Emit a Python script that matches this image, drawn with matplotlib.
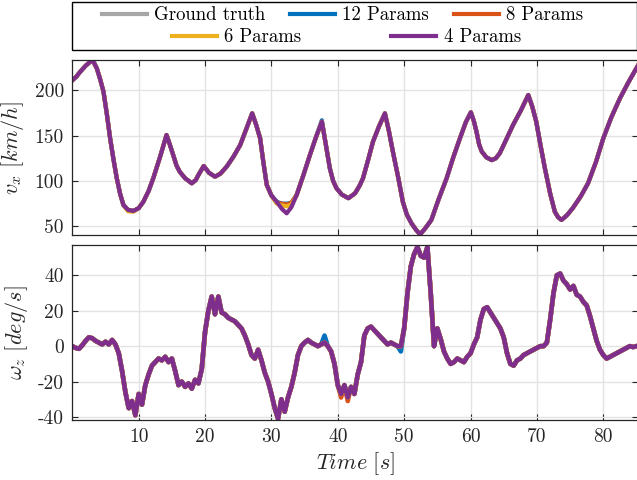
import numpy as np
import matplotlib
matplotlib.use("Agg")
import matplotlib.pyplot as plt
from matplotlib.patches import Rectangle

plt.rcParams['font.family'] = 'serif'
plt.rcParams['font.serif'] = ['cmr10']
plt.rcParams['mathtext.fontset'] = 'cm'
plt.rcParams['axes.unicode_minus'] = False
plt.rcParams['axes.formatter.use_mathtext'] = False

# ---------------- data ----------------
series_names = ['Ground truth', '12 Params', '8 Params', '6 Params', '4 Params']
series_colors = ['#A6A6A6', '#0072BD', '#D95319', '#EDB120', '#7E2F8E']

t_vx = [0, 0.6, 1.2, 2.0, 2.7, 3.1, 3.7, 4.2, 4.7, 5.2, 5.7, 6.2, 6.7, 7.2, 7.7, 8.4, 9.2,
        10.0, 10.7, 11.5, 12.2, 13.2, 14.2, 14.7, 15.2, 15.7, 16.2, 17.0, 18.0, 18.6, 19.0,
        19.8, 20.6, 21.5, 22.3, 23.25, 24.3, 25.3, 26.2, 27.1, 27.7, 28.3, 28.8, 29.3, 30.0,
        30.8, 31.6, 32.3, 33.0, 33.8, 34.8, 35.8, 36.7, 37.6, 38.2, 38.8, 39.3, 39.8, 40.6,
        41.6, 42.6, 43.3, 43.8, 44.6, 45.3, 46.2, 47.1, 47.7, 48.3, 49.1, 49.8, 50.4, 51.1,
        51.8, 52.4, 53.2, 54.1, 55.2, 56.4, 57.4, 58.4, 59.3, 60.05, 60.5, 60.9, 61.3, 61.7,
        62.4, 63.2, 63.8, 64.4, 65.4, 66.4, 67.6, 68.7, 69.3, 69.9, 70.5, 71.2, 72.0, 72.7,
        73.2, 73.7, 74.5, 75.4, 76.6, 77.7, 78.9, 80.0, 81.2, 82.5, 83.8, 85.2]
vx_4 = [211, 215, 220.5, 227, 231.5, 232.5, 224, 212, 198.5, 174, 147, 124, 103, 86, 73.5, 68, 66.9,
        70, 77, 89, 103, 126, 150.7, 140, 128.6, 117, 110, 103, 97.4, 101, 106.6,
        116.5, 109, 104.7, 108, 115.7, 127, 139.7, 157, 174.6, 162, 147, 120, 95.6, 84,
        77, 69, 64.3, 71, 84.5, 106, 128.6, 148, 165.4, 140, 114, 100, 92, 85,
        81, 86.4, 95, 103, 124, 143.3, 160, 174.6, 155, 132.3, 104, 77, 63, 53.3,
        46, 41, 48, 57, 80, 103, 126, 147, 165, 175.7, 166, 154.3, 140, 132.3,
        126, 123, 125, 130.5, 146, 161.7, 178, 194.8, 182, 165.4, 141, 114, 86, 66,
        60, 57, 62, 70, 83, 97.4, 121, 147, 170, 191, 209, 227]
# other models: same readings except near the dip at ~32 s and a few peaks
vx_gt = list(vx_4)
vx_gt[45:49] = [76, 74, 74, 75]
vx_12 = list(vx_4)
vx_12[45:49] = [77, 75, 75, 76]
vx_12[5] = 234
vx_12[53] = 167
vx_8 = list(vx_4)
vx_8[45:49] = [76, 75, 74, 76]
vx_6 = list(vx_4)
vx_6[45:49] = [75, 73, 72, 74]
vx_6[15:17] = [66.5, 66]

t_w = [i * 0.5 for i in range(171)]
w_4 = [0, -1, -1.5, 0.5, 3, 5, 4.5, 3, 2, 1, 2.5, 1, 3.5, 1, -4, -14, -26, -35, -31, -39,
       -27, -33, -22, -16, -11, -9, -7, -8, -6, -9, -7, -14, -22, -20, -23, -21, -24, -19, -21, -13,
       8, 20, 28, 18, 28, 19, 18, 16, 15, 14, 12, 10, 6, 1, -5, -7, -2, -8, -15, -20,
       -27, -35, -41, -30, -37, -29, -23, -15, -5, 0, 2, 3.5, 2, 1, 0, 1, 2, 0, -3, -10,
       -22, -27, -22, -29, -23, -27, -16, -9, 6, 10, 11, 9, 7, 5, 3, 1, 2, 1, 0, 0,
       10, 30, 45, 52, 56, 51, 50, 56, 30, 0, 10, 4, -3, -7, -10, -9, -7, -8, -9, -6,
       -4, 1, 5, 15, 21, 22, 19, 16, 13, 10, 5, -4, -10, -11, -8, -7, -5, -4, -3, -2,
       -1, 0, 0, 2, 15, 30, 40, 41, 37, 35, 32, 34, 29, 28, 25, 23, 17, 10, 3, -2,
       -5, -7, -6, -5, -4, -3, -2, -1, 0, -0.5, 0]
w_gt = list(w_4)
w_12 = list(w_4)
w_12[76] = 6
w_12[99] = -3
w_12[142] = 0
w_8 = list(w_4)
w_8[83] = -31
w_8[81] = -29
w_6 = list(w_4)

vx_series = [vx_gt, vx_12, vx_8, vx_6, vx_4]
w_series = [w_gt, w_12, w_8, w_6, w_4]

xticks = [10, 20, 30, 40, 50, 60, 70, 80]
vx_ticks = [50, 100, 150, 200]
w_ticks = [-40, -20, 0, 20, 40]

# ---------------- figure ----------------
W, H = 637, 480
fig = plt.figure(figsize=(W / 100, H / 100), dpi=100)

def px_axes(x0, y0, x1, y1):
    return fig.add_axes([x0 / W, 1 - y1 / H, (x1 - x0) / W, (y1 - y0) / H])

ax1 = px_axes(72.3, 60, 637.8, 235)
ax2 = px_axes(72.3, 244.7, 637.8, 420)

lines = []
for ax, ys, t, lw in ((ax1, vx_series, t_vx, 3.0), (ax2, w_series, t_w, 3.3)):
    for name, col, y in zip(series_names, series_colors, ys):
        ln, = ax.plot(t, y, color=col, lw=lw, label=name, solid_joinstyle='round')
        if ax is ax1:
            lines.append(ln)
    ax.set_xlim(0, 85.2)
    ax.set_xticks(xticks)
    ax.grid(True, color='#E3E3E3', lw=1.0)
    ax.set_axisbelow(True)
    ax.tick_params(direction='in', length=4, width=0.8, top=True, right=True,
                   labelsize=14, colors='#262626', pad=6)
    for sp in ax.spines.values():
        sp.set_color('#262626')
        sp.set_linewidth(0.9)

ax1.set_ylim(40.4, 233.4)
ax1.set_yticks(vx_ticks)
ax1.tick_params(labelbottom=False)
ax2.set_ylim(-41.7, 57.3)
ax2.set_yticks(w_ticks)

ax1.set_ylabel(r'$v_x\ [km/h]$', fontsize=16, color='#262626', labelpad=6)
ax2.set_ylabel(r'$\omega_z\ [deg/s]$', fontsize=16, color='#262626', labelpad=6)
ax2.set_xlabel(r'$Time\ [s]$', fontsize=16, color='#262626', labelpad=3)
fig.align_ylabels([ax1, ax2])

# legend box
fig.add_artist(Rectangle((72 / W, 1 - 49.5 / H), (636.5 - 72) / W, 47.5 / H,
                         transform=fig.transFigure, fill=False, ec='black', lw=1.0))
cx = (72 + 637) / 2 / W
leg1 = fig.legend(lines[:3], series_names[:3], ncol=3, loc='center',
                  bbox_to_anchor=(cx - 12 / W, 1 - 15.5 / H), frameon=False, fontsize=13.5,
                  handlelength=2.4, handletextpad=0.4, columnspacing=1.3,
                  borderpad=0, borderaxespad=0)
leg2 = fig.legend(lines[3:], series_names[3:], ncol=2, loc='center',
                  bbox_to_anchor=(cx - 8 / W, 1 - 37.5 / H), frameon=False, fontsize=13.5,
                  handlelength=2.4, handletextpad=0.4, columnspacing=4.8,
                  borderpad=0, borderaxespad=0)
for lg in (leg1, leg2):
    for h in lg.legend_handles:
        h.set_linewidth(3)

fig.savefig('out.png', dpi=100)
